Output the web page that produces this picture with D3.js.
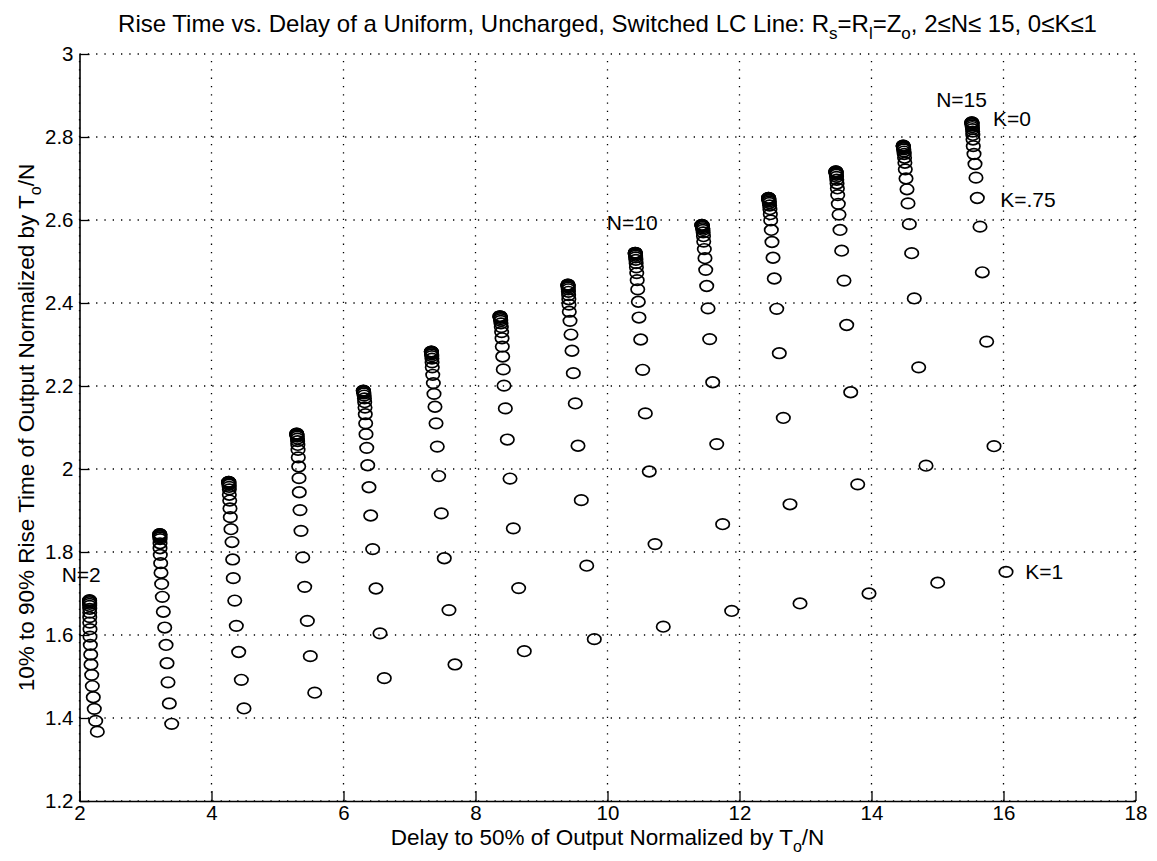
<!DOCTYPE html>
<html>
<head>
<meta charset="utf-8">
<script src="https://cdn.jsdelivr.net/npm/d3@7"></script>
<style>
  html, body { margin: 0; padding: 0; background: #fff; }
  svg { display: block; font-family: "Liberation Sans", Arial, Helvetica, sans-serif; }
</style>
</head>
<body>
<div id="chart"></div>
<script>
// K runs 0 -> 1 in steps of .05, one column of markers per N
const kValues = [0, 0.05, 0.1, 0.15, 0.2, 0.25, 0.3, 0.35, 0.4, 0.45, 0.5,
                 0.55, 0.6, 0.65, 0.7, 0.75, 0.8, 0.85, 0.9, 0.95, 1];
const nValues = [2, 3, 4, 5, 6, 7, 8, 9, 10, 11, 12, 13, 14, 15];

const xTicks = [2, 4, 6, 8, 10, 12, 14, 16, 18];
const xTickLabels = ["2", "4", "6", "8", "10", "12", "14", "16", "18"];
const yTicks = [1.2, 1.4, 1.6, 1.8, 2, 2.2, 2.4, 2.6, 2.8, 3];
const yTickLabels = ["1.2", "1.4", "1.6", "1.8", "2", "2.2", "2.4", "2.6", "2.8", "3"];

// delay (x) and rise time (y), ordered K = 0 ... 1
const delay2 = [2.152, 2.152, 2.153, 2.153, 2.154, 2.154, 2.155, 2.155, 2.155, 2.155, 2.159,
                2.159, 2.164, 2.170, 2.174, 2.185, 2.194, 2.209, 2.224, 2.245, 2.270];
const rise2  = [1.684, 1.683, 1.682, 1.679, 1.675, 1.670, 1.663, 1.654, 1.643, 1.630, 1.614,
                1.596, 1.576, 1.553, 1.529, 1.504, 1.477, 1.450, 1.422, 1.393, 1.367];
const delay3 = [3.216, 3.216, 3.217, 3.217, 3.218, 3.219, 3.220, 3.220, 3.220, 3.224, 3.230,
                3.235, 3.245, 3.255, 3.270, 3.291, 3.311, 3.326, 3.341, 3.361, 3.397];
const rise3  = [1.843, 1.843, 1.842, 1.840, 1.838, 1.835, 1.831, 1.821, 1.809, 1.793, 1.773,
                1.750, 1.723, 1.692, 1.656, 1.618, 1.576, 1.532, 1.486, 1.435, 1.386];
const delay4 = [4.260, 4.261, 4.262, 4.263, 4.265, 4.266, 4.268, 4.270, 4.270, 4.276, 4.280,
                4.285, 4.295, 4.311, 4.321, 4.330, 4.352, 4.376, 4.412, 4.452, 4.492];
const rise4  = [1.969, 1.969, 1.968, 1.967, 1.965, 1.962, 1.957, 1.951, 1.938, 1.924, 1.905,
                1.884, 1.855, 1.824, 1.782, 1.737, 1.683, 1.622, 1.559, 1.492, 1.423];
const delay5 = [5.290, 5.291, 5.292, 5.294, 5.296, 5.299, 5.302, 5.305, 5.308, 5.311, 5.315,
                5.321, 5.326, 5.330, 5.341, 5.356, 5.382, 5.412, 5.452, 5.497, 5.564];
const rise5  = [2.085, 2.085, 2.084, 2.083, 2.081, 2.078, 2.073, 2.067, 2.058, 2.046, 2.028,
                2.006, 1.978, 1.944, 1.901, 1.851, 1.787, 1.716, 1.634, 1.549, 1.461];
const delay6 = [6.300, 6.301, 6.302, 6.304, 6.306, 6.309, 6.313, 6.317, 6.321, 6.326, 6.330,
                6.336, 6.341, 6.352, 6.367, 6.386, 6.412, 6.442, 6.492, 6.553, 6.618];
const rise6  = [2.189, 2.188, 2.188, 2.187, 2.185, 2.182, 2.177, 2.170, 2.161, 2.148, 2.132,
                2.110, 2.084, 2.051, 2.009, 1.956, 1.888, 1.807, 1.712, 1.604, 1.496];
const delay7 = [7.330, 7.331, 7.332, 7.333, 7.334, 7.336, 7.338, 7.340, 7.342, 7.345, 7.352,
                7.361, 7.371, 7.386, 7.402, 7.421, 7.442, 7.482, 7.527, 7.598, 7.689];
const rise7  = [2.283, 2.283, 2.282, 2.281, 2.279, 2.276, 2.272, 2.266, 2.257, 2.245, 2.227,
                2.207, 2.181, 2.150, 2.110, 2.054, 1.983, 1.893, 1.785, 1.660, 1.529];
const delay8 = [8.370, 8.371, 8.372, 8.374, 8.376, 8.379, 8.382, 8.386, 8.391, 8.396, 8.402,
                8.406, 8.412, 8.421, 8.432, 8.452, 8.482, 8.523, 8.573, 8.654, 8.739];
const rise8  = [2.368, 2.368, 2.367, 2.366, 2.364, 2.361, 2.357, 2.351, 2.342, 2.330, 2.315,
                2.295, 2.271, 2.240, 2.201, 2.146, 2.071, 1.977, 1.857, 1.713, 1.561];
const delay9 = [9.400, 9.400, 9.401, 9.402, 9.403, 9.404, 9.406, 9.408, 9.411, 9.414, 9.417,
                9.421, 9.432, 9.447, 9.462, 9.482, 9.512, 9.553, 9.603, 9.685, 9.800];
const rise9  = [2.444, 2.444, 2.443, 2.442, 2.440, 2.437, 2.433, 2.427, 2.419, 2.409, 2.396,
                2.379, 2.357, 2.324, 2.285, 2.231, 2.158, 2.056, 1.925, 1.767, 1.590];
const delay10 = [10.420, 10.420, 10.421, 10.422, 10.423, 10.425, 10.427, 10.430, 10.434, 10.438, 10.443,
                 10.450, 10.458, 10.467, 10.477, 10.503, 10.533, 10.573, 10.633, 10.720, 10.845];
const rise10  = [2.521, 2.521, 2.520, 2.519, 2.517, 2.514, 2.510, 2.504, 2.496, 2.486, 2.472,
                 2.455, 2.433, 2.403, 2.365, 2.312, 2.239, 2.134, 1.994, 1.819, 1.620];
const delay11 = [11.430, 11.431, 11.432, 11.434, 11.436, 11.439, 11.442, 11.446, 11.450, 11.454, 11.458,
                 11.467, 11.477, 11.488, 11.503, 11.523, 11.548, 11.594, 11.655, 11.745, 11.882];
const rise11  = [2.588, 2.588, 2.587, 2.586, 2.585, 2.583, 2.580, 2.576, 2.570, 2.561, 2.548,
                 2.530, 2.508, 2.480, 2.441, 2.387, 2.313, 2.209, 2.060, 1.867, 1.658];
const delay12 = [12.440, 12.440, 12.441, 12.442, 12.444, 12.446, 12.449, 12.452, 12.456, 12.461, 12.467,
                 12.473, 12.482, 12.492, 12.508, 12.527, 12.564, 12.603, 12.664, 12.765, 12.917];
const rise12  = [2.653, 2.653, 2.652, 2.651, 2.650, 2.648, 2.645, 2.641, 2.635, 2.626, 2.614,
                 2.599, 2.576, 2.547, 2.509, 2.459, 2.386, 2.279, 2.123, 1.915, 1.676];
const delay13 = [13.460, 13.460, 13.461, 13.462, 13.463, 13.465, 13.467, 13.470, 13.474, 13.478, 13.483,
                 13.488, 13.497, 13.508, 13.523, 13.548, 13.583, 13.624, 13.685, 13.791, 13.962];
const rise13  = [2.717, 2.717, 2.716, 2.715, 2.714, 2.712, 2.709, 2.704, 2.697, 2.688, 2.676,
                 2.660, 2.639, 2.613, 2.576, 2.526, 2.454, 2.347, 2.185, 1.963, 1.700];
const delay14 = [14.480, 14.480, 14.481, 14.482, 14.484, 14.486, 14.489, 14.492, 14.496, 14.501, 14.506,
                 14.512, 14.523, 14.538, 14.553, 14.573, 14.609, 14.648, 14.715, 14.826, 15.003];
const rise14  = [2.779, 2.779, 2.778, 2.777, 2.775, 2.773, 2.770, 2.765, 2.759, 2.750, 2.738,
                 2.722, 2.700, 2.674, 2.640, 2.590, 2.520, 2.411, 2.245, 2.008, 1.726];
const delay15 = [15.520, 15.520, 15.521, 15.522, 15.523, 15.525, 15.527, 15.530, 15.533, 15.535, 15.538,
                 15.542, 15.553, 15.568, 15.583, 15.603, 15.644, 15.679, 15.745, 15.856, 16.038];
const rise15  = [2.835, 2.835, 2.834, 2.833, 2.831, 2.828, 2.824, 2.819, 2.813, 2.805, 2.794,
                 2.778, 2.759, 2.735, 2.702, 2.653, 2.584, 2.474, 2.307, 2.055, 1.752];

// text annotations (data coordinates, left/baseline)
const noteText = ["N=2", "N=10", "N=15", "K=0", "K=.75", "K=1"];
const noteX    = [1.73, 9.99, 14.98, 15.84, 15.95, 16.33];
const noteY    = [1.728, 2.577, 2.872, 2.826, 2.631, 1.735];

const delayByN = [delay2, delay3, delay4, delay5, delay6, delay7, delay8,
                  delay9, delay10, delay11, delay12, delay13, delay14, delay15];
const riseByN  = [rise2, rise3, rise4, rise5, rise6, rise7, rise8,
                  rise9, rise10, rise11, rise12, rise13, rise14, rise15];

const points = [];
nValues.forEach((n, j) => {
  kValues.forEach((k, i) => {
    points.push({n: n, k: k, delay: delayByN[j][i], rise: riseByN[j][i]});
  });
});

const W = 1157, H = 861;
const margin = {top: 54, right: 21.5, bottom: 60, left: 79.5};
const width = W - margin.left - margin.right;
const height = H - margin.top - margin.bottom;

const svg = d3.select("#chart").append("svg")
  .attr("width", W)
  .attr("height", H);

svg.append("rect").attr("width", W).attr("height", H).attr("fill", "#fff");

const g = svg.append("g")
  .attr("transform", "translate(" + margin.left + "," + margin.top + ")");

const x = d3.scaleLinear().domain([2, 18]).range([0, width]);
const y = d3.scaleLinear().domain([1.2, 3]).range([height, 0]);

// dotted grid
const grid = g.append("g").attr("class", "grid")
  .attr("stroke", "#000")
  .attr("stroke-width", 1.3)
  .attr("stroke-dasharray", "1.3,7");

grid.selectAll(".vgrid").data(xTicks).join("line")
  .attr("class", "vgrid")
  .attr("x1", d => x(d)).attr("x2", d => x(d))
  .attr("y1", height).attr("y2", 0);

grid.selectAll(".hgrid").data(yTicks).join("line")
  .attr("class", "hgrid")
  .attr("x1", 0).attr("x2", width)
  .attr("y1", d => y(d)).attr("y2", d => y(d));

// markers
g.append("g").selectAll("ellipse").data(points).join("ellipse")
  .attr("cx", d => x(d.delay))
  .attr("cy", d => y(d.rise))
  .attr("rx", 6.7)
  .attr("ry", 5.3)
  .attr("fill", "none")
  .attr("stroke", "#000")
  .attr("stroke-width", 1.7);

// axes (ticks point inward)
const xAxis = d3.axisBottom(x)
  .tickValues(xTicks)
  .tickFormat((d, i) => xTickLabels[i])
  .tickSizeInner(-10)
  .tickSizeOuter(0)
  .tickPadding(4);

const yAxis = d3.axisLeft(y)
  .tickValues(yTicks)
  .tickFormat((d, i) => yTickLabels[i])
  .tickSizeInner(-10)
  .tickSizeOuter(0)
  .tickPadding(6);

const gx = g.append("g")
  .attr("transform", "translate(0," + height + ")")
  .call(xAxis);

const gy = g.append("g").call(yAxis);

[gx, gy].forEach(ax => {
  ax.select(".domain").attr("stroke", "#000").attr("stroke-width", 1.6);
  ax.selectAll(".tick line").attr("stroke", "#000").attr("stroke-width", 1.3);
  ax.selectAll(".tick text")
    .attr("fill", "#000")
    .style("font-family", "'Liberation Sans', Arial, sans-serif")
    .style("font-size", "20.5px");
});

// annotations
g.append("g").selectAll("text").data(noteText).join("text")
  .attr("x", (d, i) => x(noteX[i]))
  .attr("y", (d, i) => y(noteY[i]))
  .attr("font-size", 21)
  .attr("fill", "#000")
  .text(d => d);

// title
const title = svg.append("text")
  .attr("x", margin.left + width / 2)
  .attr("y", 32)
  .attr("text-anchor", "middle")
  .attr("font-size", 24)
  .style("font-family", "'Liberation Sans Narrow', 'Liberation Sans', Arial, sans-serif")
  .attr("fill", "#000");
title.append("tspan").text("Rise Time vs. Delay of a Uniform, Uncharged, Switched LC Line: R");
title.append("tspan").attr("dy", 7).attr("font-size", 17).text("s");
title.append("tspan").attr("dy", -7).text("=R");
title.append("tspan").attr("dy", 7).attr("font-size", 17).text("l");
title.append("tspan").attr("dy", -7).text("=Z");
title.append("tspan").attr("dy", 7).attr("font-size", 17).text("o");
title.append("tspan").attr("dy", -7).text(", 2\u2264N\u2264 15, 0\u2264K\u22641");

// x label
const xl = svg.append("text")
  .attr("x", margin.left + width / 2)
  .attr("y", 845)
  .attr("text-anchor", "middle")
  .attr("font-size", 22.5)
  .attr("fill", "#000");
xl.append("tspan").text("Delay to 50% of Output Normalized by T");
xl.append("tspan").attr("dy", 7).attr("font-size", 16).text("o");
xl.append("tspan").attr("dy", -7).text("/N");

// y label
const yl = svg.append("text")
  .attr("transform", "translate(34," + (margin.top + height / 2) + ") rotate(-90)")
  .attr("text-anchor", "middle")
  .attr("font-size", 22.5)
  .attr("fill", "#000");
yl.append("tspan").text("10% to 90% Rise Time of Output Normalized by T");
yl.append("tspan").attr("dy", 7).attr("font-size", 16).text("o");
yl.append("tspan").attr("dy", -7).text("/N");
</script>
</body>
</html>
